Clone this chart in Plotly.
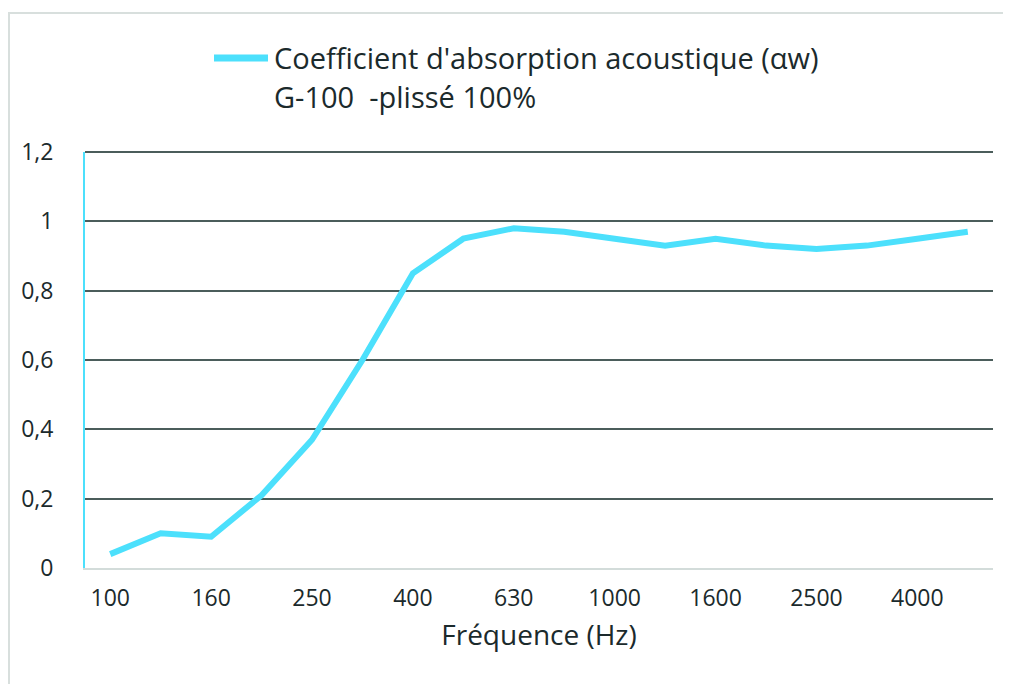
import plotly.graph_objects as go

frequencies = ["100", "125", "160", "200", "250", "315", "400", "500", "630",
               "800", "1000", "1250", "1600", "2000", "2500", "3150", "4000", "5000"]
absorption = [0.04, 0.10, 0.09, 0.21, 0.37, 0.60, 0.85, 0.95, 0.98,
              0.97, 0.95, 0.93, 0.95, 0.93, 0.92, 0.93, 0.95, 0.97]
tick_labels = ["100", "160", "250", "400", "630", "1000", "1600", "2500", "4000"]
y_ticks = [0, 0.2, 0.4, 0.6, 0.8, 1.0, 1.2]
legend_line1 = "Coefficient d'absorption acoustique (αw)"
legend_line2 = "G-100  -plissé 100%"
x_title = "Fréquence (Hz)"

LINE = "#4ce0fc"
TEXT = "#1b2a2c"
GRID = "#4b5d5b"
OFF = 8  # page body margin
W, H = 1003, 676
L, T = 85 - OFF, 152 - OFF
R = (OFF + W) - 993
B = (OFF + H) - 568
pw, ph = W - L - R, H - T - B

def px(x):
    return (x - OFF - L) / pw

def py(y):
    return (OFF + H - B - y) / ph

fig = go.Figure()
fig.add_trace(go.Scatter(
    x=frequencies, y=absorption, mode="lines",
    line=dict(color=LINE, width=6), showlegend=False,
    hoverinfo="x+y",
))

fig.update_layout(
    width=W, height=H,
    margin=dict(l=L, r=R, t=T, b=B),
    paper_bgcolor="white", plot_bgcolor="white",
    separators=", ",
    font=dict(family="Open Sans", color=TEXT, size=23),
    showlegend=False,
    xaxis=dict(
        type="category", range=[-0.5, len(frequencies) - 0.5],
        tickmode="array", tickvals=tick_labels, ticktext=tick_labels,
        showgrid=False, zeroline=False,
        showline=True, linecolor="#d3dcda", linewidth=2,
        ticks="", ticklabelstandoff=8,
        tickfont=dict(size=23, family="Open Sans", color=TEXT),
        title=dict(text=x_title, font=dict(size=28, family="Open Sans", color=TEXT), standoff=14),
    ),
    yaxis=dict(
        range=[y_ticks[0], y_ticks[-1]], tickmode="array", tickvals=y_ticks,
        showgrid=True, gridcolor=GRID, gridwidth=2,
        zeroline=False, showline=True, linecolor=LINE, linewidth=2,
        ticks="", ticklabelstandoff=25,
        tickfont=dict(size=23, family="Open Sans", color=TEXT),
    ),
    shapes=[
        dict(type="rect", xref="paper", yref="paper",
             x0=px(9), x1=px(1016), y0=py(700), y1=py(13),
             line=dict(color="#d8dfdd", width=2), fillcolor="rgba(0,0,0,0)", layer="below"),
        dict(type="line", xref="paper", yref="paper",
             x0=0, x1=1, y0=1, y1=1,
             line=dict(color=GRID, width=2), layer="below"),
        dict(type="line", xref="paper", yref="paper",
             x0=px(214), x1=px(268), y0=py(58), y1=py(58),
             line=dict(color=LINE, width=7)),
    ],
    annotations=[
        dict(text=legend_line1, xref="paper", yref="paper", x=px(272), y=py(58),
             xanchor="left", yanchor="middle", showarrow=False,
             font=dict(size=29, family="Open Sans", color=TEXT)),
        dict(text=legend_line2, xref="paper", yref="paper", x=px(272), y=py(97),
             xanchor="left", yanchor="middle", showarrow=False,
             font=dict(size=29, family="Open Sans", color=TEXT)),
    ],
)

fig.write_html("out.html")
